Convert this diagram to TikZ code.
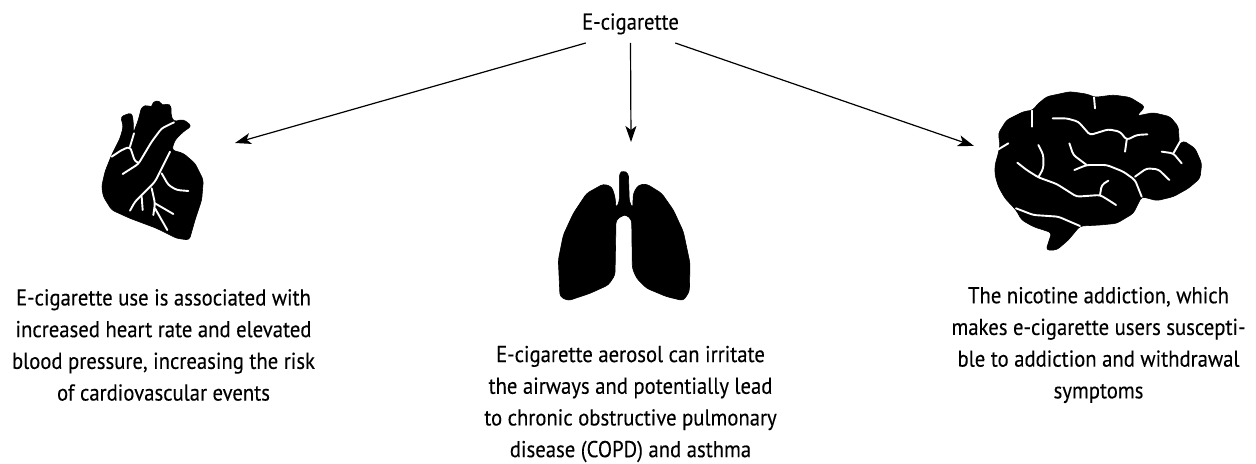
\documentclass[tikz,border=0pt]{standalone}
\usepackage{fontspec}
\setmainfont[FakeStretch=0.9, FakeBold=0.2]{PT Sans}
\usepackage{xcolor}
\usetikzlibrary{arrows.meta}

\begin{document}
\begin{tikzpicture}[
    x=0.5pt, y=-0.5pt,
    label/.style = {inner sep=0pt, align=center, font=\fontsize{11.5}{15.85}\selectfont},
    link/.style = {line width=0.6pt, -{Stealth[length=8pt, width=5.5pt, inset=2pt]}},
    icon/.style = {x=0.16667pt, y=-0.16667pt},
    organ/.style = {fill=black, draw=black, line width=0.3pt, line join=round, rounded corners=1.6pt},
    vein/.style = {draw=white, line width=0.95pt, line join=round, line cap=round, rounded corners=1.5pt}
]
    \useasboundingbox (0,0) rectangle (1256,464);

    \node [label, anchor=south, text depth=6.5pt] (cig) at (630.5,43) {E-cigarette};
    \coordinate (heart) at (235,143);
    \coordinate (lungs) at (631,142);
    \coordinate (brain) at (974,146);

    \node [label] (hearttext) at (163.5,345) {E-cigarette use is associated with\\increased heart rate and elevated\\blood pressure, increasing the risk\\of cardiovascular events};
    \node [label] (lungstext) at (630.5,404) {E-cigarette aerosol can irritate\\the airways and potentially lead\\to chronic obstructive pulmonary\\disease (COPD) and asthma};
    \node [label] (braintext) at (1098.5,345) {The nicotine addiction, which\\makes e-cigarette users suscepti-\\ble to addiction and withdrawal\\symptoms};

    \path [draw, link] ([xshift=2pt]cig.south west) -- (heart);
    \path [draw, link] (cig.south) -- (lungs);
    \path [draw, link] ([xshift=-2pt]cig.south east) -- (brain);

    % heart
    \begin{scope}[shift={(80,90)}, icon]
        \path [organ] (95,195) -- (120,145) -- (130,110) -- (122,80) -- (155,68) -- (160,95) -- (160,130) -- (175,90) -- (185,50) -- (205,45) -- (215,55) -- (218,35) -- (240,32) -- (245,48) -- (262,40) -- (275,50) -- (272,70) -- (280,95) -- (310,88) -- (335,108) -- (310,125) -- (285,150) -- (275,180) -- (310,190) -- (345,220) -- (370,270) -- (365,330) -- (345,390) -- (328,450) -- (290,445) -- (230,415) -- (150,385) -- (95,360) -- (70,320) -- (65,290) -- (75,245) -- cycle;
        \draw [vein] (95,200) -- (125,180) -- (150,170) -- (165,215) -- (175,218);
        \draw [vein] (162,130) -- (150,170);
        \draw [vein] (128,252) -- (175,222) -- (215,155) -- (245,115) -- (282,97);
        \draw [vein] (270,185) -- (250,225) -- (225,275) -- (185,315) -- (165,335) -- (150,362);
        \draw [vein] (185,320) -- (188,360);
        \draw [vein] (215,295) -- (225,340) -- (220,375);
        \draw [vein] (225,340) -- (280,372);
        \draw [vein] (225,355) -- (262,420);
        \draw [vein] (245,250) -- (265,285) -- (290,300) -- (325,303);
    \end{scope}

    % lungs
    \begin{scope}[shift={(540,160)}, icon]
        \path [organ] (55,300) -- (70,225) -- (100,160) -- (140,100) -- (190,72) -- (215,80) -- (225,110) -- (228,145) -- (238,125) -- (238,40) -- (250,32) -- (265,40) -- (268,125) -- (278,145) -- (280,100) -- (295,75) -- (320,72) -- (365,100) -- (400,150) -- (430,215) -- (450,310) -- (448,395) -- (430,422) -- (380,410) -- (320,385) -- (290,355) -- (277,325) -- (275,180) -- (260,165) -- (250,165) -- (228,180) -- (225,345) -- (205,375) -- (150,400) -- (85,422) -- (60,410) -- cycle;
    \end{scope}

    % brain
    \begin{scope}[shift={(980,90)}, icon]
        \path [organ] (45,225) -- (55,190) -- (60,165) -- (55,130) -- (80,90) -- (130,65) -- (160,60) -- (170,45) -- (200,20) -- (270,5) -- (320,12) -- (345,22) -- (400,15) -- (450,22) -- (495,50) -- (470,78) -- (520,68) -- (570,80) -- (595,110) -- (598,165) -- (610,152) -- (645,175) -- (665,220) -- (660,265) -- (625,295) -- (580,320) -- (530,332) -- (505,325) -- (485,320) -- (480,330) -- (460,370) -- (410,400) -- (360,405) -- (300,408) -- (265,450) -- (230,480) -- (198,480) -- (215,428) -- (160,410) -- (125,390) -- (108,360) -- (75,325) -- (55,290) -- (45,255) -- cycle;
        \draw [vein] (155,62) -- (155,110);
        \draw [vein] (55,178) -- (85,160);
        \draw [vein] (342,22) -- (345,55);
        \draw [vein] (218,85) -- (260,85) -- (295,95) -- (330,135) -- (385,118) -- (420,125) -- (440,150) -- (470,135) -- (502,133);
        \draw [vein] (440,150) -- (435,185);
        \draw [vein] (175,165) -- (190,195) -- (190,235) -- (175,262);
        \draw [vein] (112,218) -- (140,240) -- (175,262) -- (230,282) -- (290,320) -- (360,315) -- (385,330) -- (408,345);
        \draw [vein] (360,315) -- (365,285) -- (385,272);
        \draw [vein] (268,160) -- (280,195) -- (320,225);
        \draw [vein] (283,240) -- (320,225) -- (380,225) -- (430,245) -- (465,270) -- (485,320);
        \draw [vein] (465,260) -- (500,235) -- (535,238) -- (568,270);
        \draw [vein] (108,355) -- (160,375) -- (235,380) -- (300,408);
        \draw [vein] (545,185) -- (580,190) -- (605,220);
        \draw [vein] (580,190) -- (600,155);
    \end{scope}
\end{tikzpicture}
\end{document}
